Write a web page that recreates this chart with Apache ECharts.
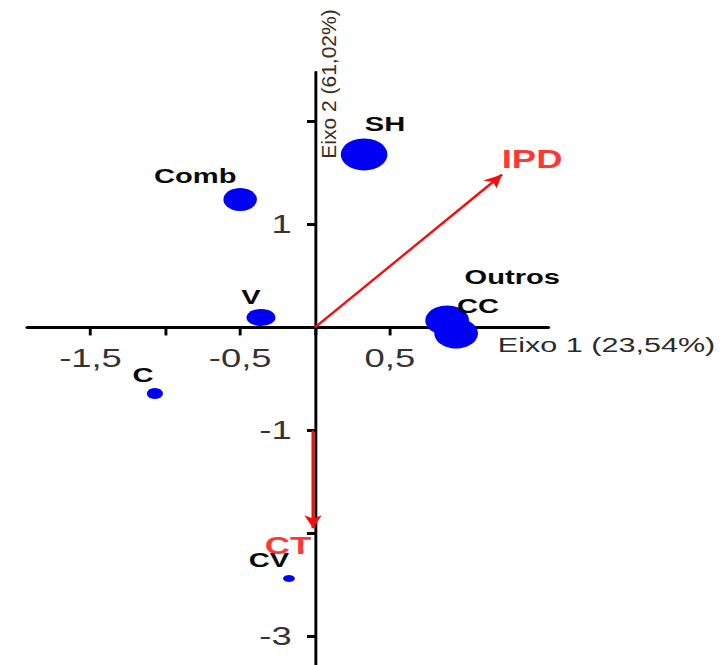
<!DOCTYPE html>
<html><head><meta charset="utf-8">
<script src="https://cdn.jsdelivr.net/npm/echarts@6/dist/echarts.min.js"></script>
<style>
html,body{margin:0;padding:0;background:#fff;overflow:hidden}
#wrap{width:722px;height:665px;overflow:hidden;position:relative}
#chart{width:496px;height:665px;transform:scaleX(1.4556);transform-origin:0 0}
</style></head><body><div id="wrap"><div id="chart"></div></div>
<script>
// ---- data ----
const pointNames = ['SH', 'Comb', 'V', 'C', 'Outros', 'CC', 'CV'];
const pointX = [0.328, -0.50, -0.361, -1.07, 0.883, 0.943, -0.174];
const pointY = [1.68, 1.243, 0.097, -0.641, 0.068, -0.058, -2.437];

const vectorNames = ['IPD', 'CT'];
const vectorStartX = [0, -0.013];
const vectorStartY = [0, -1.0];
const vectorEndX = [1.25, -0.013];
const vectorEndY = [1.485, -1.95];

const xTicks = [-1.5, -1, -0.5, 0, 0.5, 1];
const xTickLabels = [-1.5, -0.5, 0.5];
const yTicks = [-3, -2, -1, 0, 1, 2];
const yTickLabels = [-3, -1, 1];

const xAxisTitle = 'Eixo 1 (23,54%)';
const yAxisTitle = 'Eixo 2 (61,02%)';

// ---- layout / styling ----
const F = '"Liberation Sans", Arial, Helvetica, sans-serif';
const X_MIN = -1.92, X_MAX = 1.557, Y_MIN = -3.277, Y_MAX = 2.48;
const GRID = {left: 19, top: 72, width: 357.5, height: 593};
// axes cross at the origin: shift them from the grid edges to the zero lines
const xAxisOffset = -GRID.height * (0 - Y_MIN) / (Y_MAX - Y_MIN);
const yAxisOffset = -GRID.width * (0 - X_MIN) / (X_MAX - X_MIN);

const markerSize = {SH: 32, Comb: 23, V: [20, 17], C: 11, Outros: 30, CC: 30, CV: [8, 7]};
const labelOffset = {SH: [14.4, -31], Comb: [-30.9, -24], V: [-6.9, -21], C: [-8.2, -19],
  Outros: [44.7, -44], CC: [15.1, -28], CV: [-13.7, -19]};
const vectorLabelOffset = {IPD: [20.6, -15], CT: [-17.2, 17]};
const vectorFont = {IPD: 25, CT: 24};
const fmt = v => String(v).replace('.', ',');

const pointData = pointNames.map((n, i) => ({
  name: n, value: [pointX[i], pointY[i]], symbolSize: markerSize[n],
  label: {show: true, position: 'inside', offset: labelOffset[n], formatter: n,
    fontSize: 20, fontWeight: 'bold', fontFamily: F, color: '#0a0a0a'}
}));
const vectorData = vectorNames.map((n, i) => ({
  name: n, value: [vectorEndX[i], vectorEndY[i]],
  label: {show: true, position: 'inside', offset: vectorLabelOffset[n], formatter: n,
    fontSize: vectorFont[n], fontWeight: 'bold', fontFamily: F, color: '#f00'}
}));
const arrowLines = vectorNames.map((n, i) => [
  {coord: [vectorStartX[i], vectorStartY[i]]},
  {coord: [vectorEndX[i], vectorEndY[i]]}
]);

const chart = echarts.init(document.getElementById('chart'), null, {renderer: 'svg'});
chart.setOption({
  animation: false,
  backgroundColor: '#fff',
  grid: Object.assign({containLabel: false, outerBoundsMode: 'none'}, GRID),
  xAxis: {
    type: 'value', min: X_MIN, max: X_MAX, position: 'bottom', offset: xAxisOffset,
    axisLine: {onZero: false, lineStyle: {color: '#000', width: 3}},
    axisTick: {show: true, length: 8, customValues: xTicks, lineStyle: {color: '#000', width: 2}},
    axisLabel: {customValues: xTickLabels, formatter: fmt, fontSize: 25, color: '#333',
      margin: 19, fontFamily: F},
    splitLine: {show: false}
  },
  yAxis: {
    type: 'value', min: Y_MIN, max: Y_MAX, position: 'left', offset: yAxisOffset,
    axisLine: {onZero: false, lineStyle: {color: '#000', width: 2}},
    axisTick: {show: true, length: 5.5, customValues: yTicks, lineStyle: {color: '#000', width: 3}},
    axisLabel: {customValues: yTickLabels, formatter: fmt, fontSize: 25, color: '#333',
      margin: 16, fontFamily: F},
    splitLine: {show: false}
  },
  series: [
    {
      type: 'scatter', name: 'pontos', data: pointData, symbol: 'circle',
      itemStyle: {color: '#0000f5', opacity: 1},
      emphasis: {disabled: true}, z: 3
    },
    {
      type: 'scatter', name: 'vetores', data: vectorData, symbolSize: 1,
      itemStyle: {color: 'rgba(0,0,0,0)'},
      emphasis: {disabled: true}, z: 4,
      markLine: {
        silent: true, animation: false, symbol: ['none', 'arrow'], symbolSize: [9, 13],
        lineStyle: {color: '#f01010', width: 2, type: 'solid'},
        label: {show: false}, emphasis: {disabled: true},
        data: arrowLines
      }
    }
  ],
  graphic: [
    {type: 'text', x: 342, y: 345, silent: true,
      style: {text: xAxisTitle, fontSize: 21, fontFamily: F, fill: '#2b2b2b',
        align: 'left', verticalAlign: 'middle'}},
    {type: 'text', x: 226, y: 84, rotation: Math.PI / 2, scaleY: 0.65, silent: true,
      style: {text: yAxisTitle, fontSize: 21, fontFamily: F, fill: '#3a2e22',
        align: 'center', verticalAlign: 'middle'}}
  ]
});
</script></body></html>
